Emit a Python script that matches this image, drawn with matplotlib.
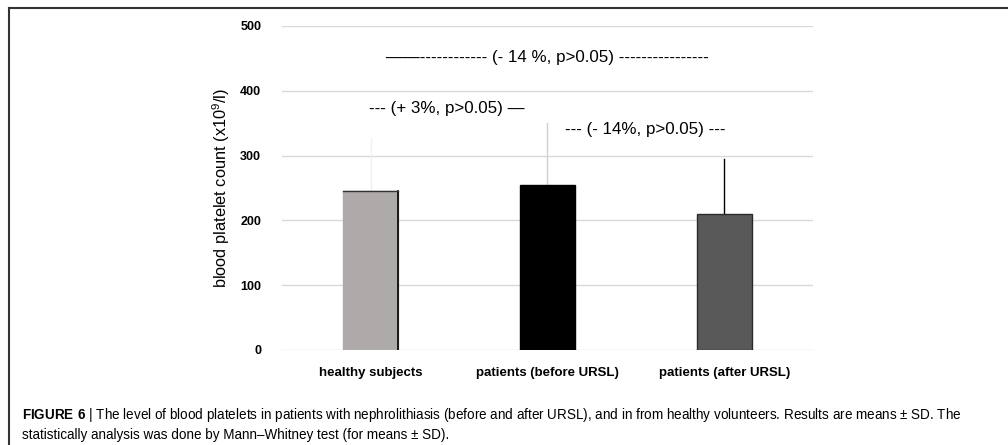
import matplotlib.pyplot as plt

groups = ['healthy subjects', 'patients (before URSL)', 'patients (after URSL)']
means = [245, 254, 210]
sd = [80, 96, 85]
bar_colors = ['#aeaaa9', '#000000', '#595959']
err_colors = ['#f0f0f0', '#d0d0d0', '#000000']
y_ticks = [0, 100, 200, 300, 400, 500]

plt.rcParams['font.family'] = ['Liberation Sans', 'DejaVu Sans']
plt.rcParams['mathtext.fontset'] = 'custom'
plt.rcParams['mathtext.rm'] = 'Liberation Sans'
plt.rcParams['mathtext.bf'] = 'Liberation Sans:bold'

fig = plt.figure(figsize=(10.08, 4.45), dpi=100)
ax = fig.add_axes([0.2798, 0.2135, 0.5267, 0.7281])

x = range(len(groups))
ax.bar(x, means, width=0.31, color=bar_colors, edgecolor=['#aeaaa9', '#000000', '#2a2a2a'],
       linewidth=1.0, zorder=3)
# dark right edge on the light bar
ax.plot([0.155, 0.155], [0, means[0]], color='#000000', lw=1.2, zorder=4)
ax.plot([-0.155, 0.155], [means[0], means[0]], color='#333333', lw=1.0, zorder=4)
for i in x:
    ax.plot([i, i], [means[i], means[i] + sd[i]], color=err_colors[i], lw=1.0, zorder=2)

ax.set_xlim(-0.5, 2.5)
ax.set_ylim(0, 500)
ax.set_yticks(y_ticks)
ax.set_yticklabels([str(t) for t in y_ticks], fontsize=9, fontweight='bold')
ax.set_xticks(list(x))
ax.set_xticklabels(groups, fontsize=9.5, fontweight='bold')
ax.tick_params(length=0)
ax.tick_params(axis='x', pad=12)
ax.tick_params(axis='y', pad=15)
ax.grid(axis='y', color='#d9d9d9', lw=1.0, zorder=0)
for s in ax.spines.values():
    s.set_visible(False)

ax.set_ylabel('blood platelet count (x10$^9$/l)', fontsize=11.8, labelpad=6)

ax.text(1.0, 451, '——------------ (- 14 %, p>0.05) ----------------', ha='center', va='center', fontsize=12.2)
ax.text(0.43, 372, '--- (+ 3%, p>0.05) —', ha='center', va='center', fontsize=12.2)
ax.text(1.55, 341, '--- (- 14%, p>0.05) ---', ha='center', va='center', fontsize=12.2)

# outer frame
fig.add_artist(plt.Line2D([0.009, 1.0], [0.983, 0.983], color='#333333', lw=1.5))
fig.add_artist(plt.Line2D([0.009, 0.009], [0.0, 0.983], color='#333333', lw=1.5))

fig.text(0.022, 0.067, r'$\mathbf{FIGURE\ 6}$ | The level of blood platelets in patients with nephrolithiasis (before and after URSL), '
         'and in from healthy volunteers. Results are means ± SD. The', fontsize=9.75, va='center')
fig.text(0.022, 0.022, 'statistically analysis was done by Mann–Whitney test (for means ± SD).',
         fontsize=9.75, va='center')

plt.savefig('out.png', dpi=100)
